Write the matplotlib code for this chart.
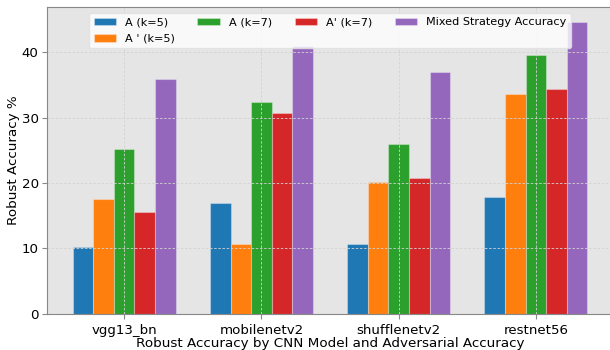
import numpy as np
import matplotlib
matplotlib.use("Agg")
import matplotlib.pyplot as plt

models = ["vgg13_bn", "mobilenetv2", "shufflenetv2", "restnet56"]
series_names = ["A (k=5)", "A ' (k=5)", "A (k=7)", "A' (k=7)", "Mixed Strategy Accuracy"]

acc_a5 = [10.2, 16.9, 10.7, 17.9]
acc_a5_prime = [17.5, 10.7, 20.2, 33.6]
acc_a7 = [25.2, 32.4, 25.9, 39.5]
acc_a7_prime = [15.6, 30.7, 20.7, 34.4]
acc_mixed = [35.9, 40.9, 37.0, 44.6]

colors = ["#1f77b4", "#ff7f0e", "#2ca02c", "#d62728", "#9467bd"]

fig = plt.figure(figsize=(6.1, 3.5), dpi=100)
ax = fig.add_axes([0.077, 0.103, 0.928, 0.876])
ax.set_facecolor("#e5e5e5")

x = np.arange(len(models))
width = 0.15
all_series = [acc_a5, acc_a5_prime, acc_a7, acc_a7_prime, acc_mixed]
for i, (vals, name, c) in enumerate(zip(all_series, series_names, colors)):
    ax.bar(x + (i - 2) * width, vals, width, label=name, color=c,
           edgecolor=(1, 1, 1, 0.3), linewidth=0.8)

ax.set_xticks(x)
ax.set_xticklabels(models, fontsize=9.6)
ax.tick_params(axis="y", labelsize=9.6, color="#888888", length=3.5, pad=2.5)
ax.tick_params(axis="x", color="#888888", length=3.5)
ax.set_yticks([0, 10, 20, 30, 40])
ax.set_ylabel("Robust Accuracy %", fontsize=9.7, labelpad=1)
ax.set_xlabel("Robust Accuracy by CNN Model and Adversarial Accuracy", fontsize=9.7, labelpad=0)

# light dashed grid, drawn over the bars
ax.grid(True, linestyle=(0, (3, 2)), color="#d2d2d2", linewidth=0.6)
for side in ["left", "bottom", "top", "right"]:
    ax.spines[side].set_color("#888888")

ax.legend(loc="upper center", ncol=4, fontsize=8.1, framealpha=0.8,
          edgecolor="#e0e0e0", handlelength=2.0, columnspacing=2.0,
          labelspacing=0.55)

fig.savefig("out.png", dpi=100)
